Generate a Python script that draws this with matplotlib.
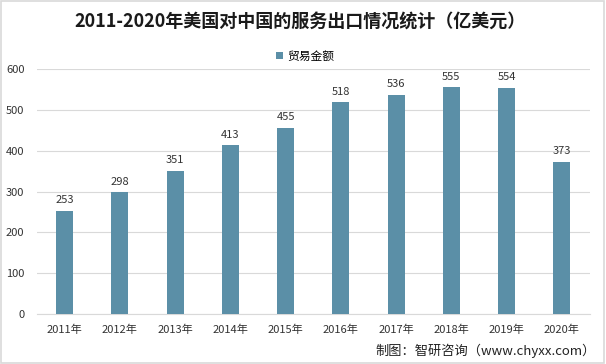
import matplotlib
matplotlib.use("Agg")
import matplotlib.pyplot as plt
from matplotlib.patches import Rectangle

plt.rcParams['font.family'] = ['Noto Sans CJK SC', 'DejaVu Sans']

years = ['2011年', '2012年', '2013年', '2014年', '2015年', '2016年', '2017年', '2018年', '2019年', '2020年']
values = [253, 298, 351, 413, 455, 518, 536, 555, 554, 373]
yticks = [0, 100, 200, 300, 400, 500, 600]

color = '#5b8fa7'
W, H = 606, 364
fig = plt.figure(figsize=(W/100, H/100), dpi=100)
fig.patches.append(Rectangle((0.002, 0.003), 0.995, 0.994, transform=fig.transFigure,
                             fill=False, edgecolor='#d9d9d9', linewidth=1.2))

ax = fig.add_axes([37/W, 1 - 314/H, (589.5-37)/W, (314-69)/H])
x = range(len(years))
bars = ax.bar(x, values, width=0.31, color=color, label='贸易金额', zorder=3)
for i, v in zip(x, values):
    ax.text(i, v + 14, str(v), ha='center', va='bottom', fontsize=8, color='#333333')
ax.set_xlim(-0.5, len(years) - 0.5)
ax.set_ylim(0, 600)
ax.set_yticks(yticks)
ax.set_yticklabels([str(t) for t in yticks], fontsize=8, color='#333333')
ax.set_xticks(list(x))
ax.set_xticklabels(years, fontsize=8, color='#333333')
ax.grid(axis='y', color='#d9d9d9', linewidth=0.8, zorder=0)
for s in ['top', 'right', 'left']:
    ax.spines[s].set_visible(False)
ax.spines['bottom'].set_color('#d9d9d9')
ax.tick_params(axis='both', length=0)
ax.tick_params(axis='y', pad=9)
ax.tick_params(axis='x', pad=8)

fig.text(300/W, 1 - 22/H, '2011-2020年美国对中国的服务出口情况统计（亿美元）', ha='center', va='center',
         fontsize=13, fontweight='bold', color='#1a1a1a')
leg = fig.legend(handles=[bars], labels=['贸易金额'], loc='center', bbox_to_anchor=(305/W, 1 - 56/H),
                 frameon=False, fontsize=8.5, handlelength=0.6, handleheight=0.6, handletextpad=0.3)
fig.text(596/W, 1 - 351/H, '制图：智研咨询（www.chyxx.com）', ha='right', va='center', fontsize=9.5, color='#222222')

fig.savefig('out.png', dpi=100)
